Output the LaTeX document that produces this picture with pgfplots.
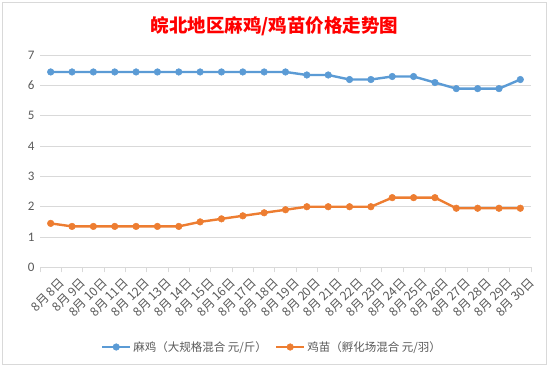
\documentclass[border=0pt]{standalone}
\usepackage{fontspec}
\usepackage{pgfplots}
\pgfplotsset{compat=1.18}
\setmainfont{Carlito}
\newfontfamily\cjk{Noto Sans CJK SC}
\definecolor{c1}{HTML}{5B9BD5}
\definecolor{c2}{HTML}{ED7D31}
\definecolor{tx}{HTML}{595959}
\definecolor{gr}{HTML}{D9D9D9}
\begin{document}
\begin{tikzpicture}[x=1pt,y=1pt]
\path[use as bounding box] (0,0) rectangle (549,367);
\draw[gr] (2.5,2.5) rectangle (546.5,364.5);
\node[font=\cjk\bfseries\fontsize{18.5}{20}\selectfont, text=red] at (274.5,341) {皖北地区麻鸡/鸡苗价格走势图};
\begin{axis}[at={(40pt,99.7pt)}, anchor=south west, scale only axis,
  width=491pt, height=212pt,
  xmin=-0.5, xmax=22.5, ymin=0, ymax=7, ytick={0,...,7},
  separate axis lines,
  axis x line*=bottom, axis y line*=left,
  x axis line style={draw=gr, line width=0.75pt, -},
  y axis line style={draw=none},
  ymajorgrids, grid style={gr, line width=0.75pt},
  ytick style={draw=none},
  xtick={0,...,22},
  xticklabels={{8月 8日},{8月 9日},{8月 10日},{8月 11日},{8月 12日},{8月 13日},{8月 14日},{8月 15日},{8月 16日},{8月 17日},{8月 18日},{8月 19日},{8月 20日},{8月 21日},{8月 22日},{8月 23日},{8月 24日},{8月 25日},{8月 26日},{8月 27日},{8月 28日},{8月 29日},{8月 30日}},
  xtick style={draw=none},
  extra x ticks={-0.5,0.5,...,22.5},
  extra x tick labels={},
  extra x tick style={xtick style={draw=gr, line width=0.75pt}, major tick length=5pt, tick align=outside},
  x tick label style={rotate=45, anchor=north east, font=\cjk\fontsize{12.3}{14}\selectfont, text=tx, inner sep=1pt, yshift=-11pt},
  y tick label style={font=\fontsize{13}{15}\selectfont, text=tx, xshift=-2pt},
  /pgf/number format/assume math mode=true,
  legend style={at={(0.4725,-0.376)}, anchor=center, draw=none, fill=none,
    font=\cjk\fontsize{11.5}{13}\selectfont, text=tx,
    legend columns=2, /tikz/every even column/.append style={column sep=6pt}},
  legend cell align=left,
  legend image code/.code={\draw[mark repeat=2,mark phase=2] plot coordinates {(0pt,0pt) (14pt,0pt) (28pt,0pt)};},
]
\addplot[c1, line width=2.4pt, mark=*, mark size=3.3pt, mark options={fill=c1, draw=c1, line width=0.5pt}] coordinates {
(0,6.45) (1,6.45) (2,6.45) (3,6.45) (4,6.45) (5,6.45) (6,6.45) (7,6.45) (8,6.45) (9,6.45) (10,6.45) (11,6.45)
(12,6.35) (13,6.35) (14,6.2) (15,6.2) (16,6.3) (17,6.3) (18,6.1) (19,5.9) (20,5.9) (21,5.9) (22,6.2)};
\addlegendentry{麻鸡（大规格混合 元/斤）}
\addplot[c2, line width=2.4pt, mark=*, mark size=3.3pt, mark options={fill=c2, draw=c2, line width=0.5pt}] coordinates {
(0,1.45) (1,1.35) (2,1.35) (3,1.35) (4,1.35) (5,1.35) (6,1.35) (7,1.5) (8,1.6) (9,1.7) (10,1.8) (11,1.9)
(12,2.0) (13,2.0) (14,2.0) (15,2.0) (16,2.3) (17,2.3) (18,2.3) (19,1.95) (20,1.95) (21,1.95) (22,1.95)};
\addlegendentry{鸡苗（孵化场混合 元/羽）}
\end{axis}
\end{tikzpicture}
\end{document}
